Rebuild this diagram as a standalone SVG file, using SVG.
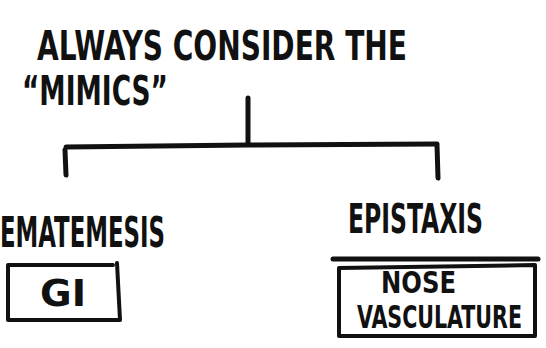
<svg xmlns="http://www.w3.org/2000/svg" width="546" height="348" viewBox="0 0 546 348">
<style>
.t{font-family:"DejaVu Sans Condensed","DejaVu Sans",sans-serif;font-weight:bold;fill:#111}
.ln{stroke:#111;stroke-width:5;stroke-linecap:round;fill:none}
.bx{stroke:#111;stroke-width:4;fill:none;stroke-linejoin:round;stroke-linecap:round}
</style>
<rect width="546" height="348" fill="#fff"/>
<g id="title">
<text class="t" x="37" y="60" font-size="41" textLength="370" lengthAdjust="spacingAndGlyphs">ALWAYS CONSIDER THE</text>
<text class="t" x="22" y="105" font-size="41" textLength="146" lengthAdjust="spacingAndGlyphs">“MIMICS”</text>
</g>
<g id="connectors">
<path class="ln" d="M248 98 L248 144"/>
<path class="ln" d="M66 147 L248 145 L437 144"/>
<path class="ln" d="M65 150 L66 175"/>
<path class="ln" d="M437 145 L438 178"/>
</g>
<g id="hematemesis">
<text class="t" x="0" y="247" font-size="42" textLength="165" lengthAdjust="spacingAndGlyphs">EMATEMESIS</text>
<path class="bx" d="M8 265 L113 265 M117 263 L120 320 L8 320 L8 265"/>
<text class="t" x="40" y="306" font-size="37" textLength="46" lengthAdjust="spacingAndGlyphs">GI</text>
</g>
<g id="epistaxis">
<text class="t" transform="translate(348 233) scale(1 1.3)" x="0" y="0" font-size="31" textLength="135" lengthAdjust="spacingAndGlyphs">EPISTAXIS</text>
<path class="ln" d="M333 259 L538 259"/>
<path class="bx" d="M339 268 L339 336 L535 336 L535 265 L339 268"/>
<text class="t" x="381" y="293" font-size="30" textLength="75" lengthAdjust="spacingAndGlyphs">NOSE</text>
<text class="t" transform="translate(357 328) scale(1 1.3)" x="0" y="0" font-size="25" textLength="165" lengthAdjust="spacingAndGlyphs">VASCULATURE</text>
</g>
</svg>
